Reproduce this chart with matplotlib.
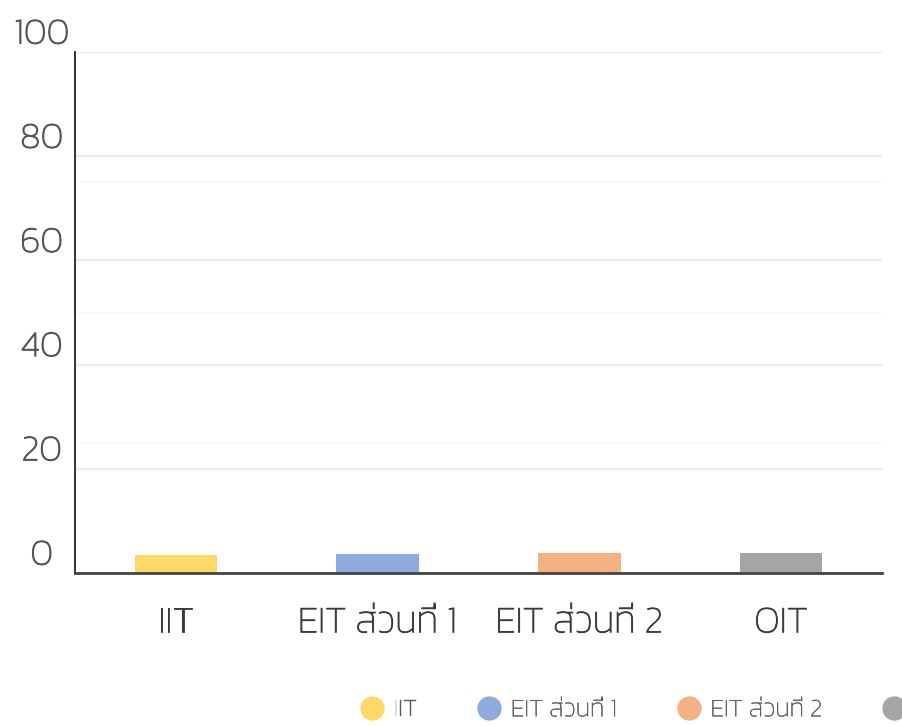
import matplotlib
matplotlib.use("Agg")
import matplotlib.pyplot as plt
import matplotlib.patheffects as pe
from matplotlib.lines import Line2D
from matplotlib.transforms import offset_copy
import numpy as np

categories = ["IIT", "EIT ส่วนที่ 1", "EIT ส่วนที่ 2", "OIT"]
values = [3.4, 3.6, 3.8, 3.9]
colors = ["#FFD966", "#8FAADC", "#F4B183", "#A5A5A5"]
y_ticks = [0, 20, 40, 60, 80, 100]
y_minor = [25, 50, 75]

def main():
    plt.rcParams['font.family'] = ['Kanit', 'DejaVu Sans']
    plt.rcParams['font.weight'] = 'light'

    fig = plt.figure(figsize=(9.02, 7.26), dpi=100)
    ax = fig.add_axes([75/902, 1 - 573/726, 807/902, 521/726])

    x = np.arange(len(categories))
    ax.bar(x, values, width=0.41, color=colors, zorder=3)

    ax.set_xlim(-0.5, len(categories) - 0.5)
    ax.set_ylim(0, 100)

    ## Grid: major every 20, very faint extra lines at 25/50/75
    ax.set_yticks(y_ticks)
    ax.set_yticks(y_minor, minor=True)
    ax.grid(axis="y", which="major", color="#ebebeb", linewidth=1.6, zorder=0)
    ax.grid(axis="y", which="minor", color="#f8f8f8", linewidth=1.2, zorder=0)
    ax.tick_params(axis="y", which="minor", length=0)

    for side in ["top", "right"]:
        ax.spines[side].set_visible(False)
    ax.spines["left"].set_color("#333333")
    ax.spines["left"].set_linewidth(1.4)
    ax.spines["bottom"].set_color("#444444")
    ax.spines["bottom"].set_linewidth(2)
    ax.spines["left"].set_zorder(4)
    ax.spines["bottom"].set_zorder(4)

    ## Tick labels (light face thickened a bit with a stroke)
    ax.set_xticks(x)
    ax.set_xticklabels(categories)
    ax.tick_params(axis="x", length=0, pad=24, labelsize=27, labelcolor="#3a3a3a")
    ax.tick_params(axis="y", length=0, pad=24, labelsize=26, labelcolor="#555555")
    for lbl in ax.get_xticklabels():
        lbl.set_path_effects([pe.withStroke(linewidth=0.6, foreground="#3a3a3a")])
    for lbl in ax.get_yticklabels():
        lbl.set_horizontalalignment("center")
        lbl.set_transform(offset_copy(lbl.get_transform(), fig=fig, y=21, units="dots"))
        lbl.set_path_effects([pe.withStroke(linewidth=0.8, foreground="#555555")])

    ## Legend at the bottom, last entry runs off the edge
    handles = [Line2D([], [], linestyle="none", marker="o", markersize=16.5,
                      markerfacecolor=c, markeredgecolor=c) for c in colors]
    leg = fig.legend(handles, categories, loc="center left",
                     bbox_to_anchor=(360/902, 1 - 710/726), ncol=4, frameon=False,
                     prop={"size": 18, "weight": "light"}, labelcolor="#5a5a5a",
                     handlelength=0.95, handletextpad=0.4, columnspacing=2.4,
                     borderpad=0, borderaxespad=0)
    for t in leg.get_texts():
        t.set_path_effects([pe.withStroke(linewidth=0.3, foreground="#5a5a5a")])

    fig.savefig("out.png", dpi=100)

if __name__ == "__main__":
    main()
